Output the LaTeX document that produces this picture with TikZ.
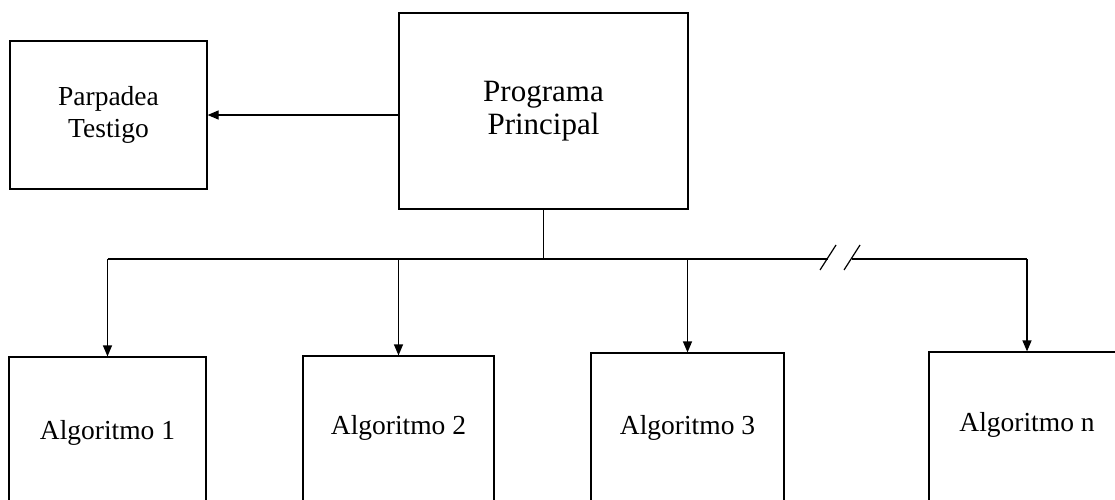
\documentclass[tikz,border=0pt]{standalone}
\usepackage{fontspec}
\setmainfont{Liberation Serif}
\usetikzlibrary{arrows.meta}
\begin{document}
\begin{tikzpicture}[x=1pt,y=-1pt,
  box/.style={draw,line width=1.2pt,inner sep=0pt,align=center},
  conn/.style={line width=1.2pt},
  arr/.style={conn,-{Triangle[length=11pt,width=9pt]}},
  fa/.style={font=\fontsize{27.5}{32}\selectfont},
  fb/.style={font=\fontsize{31}{33}\selectfont}]
\useasboundingbox (0,0) rectangle (1115,499);
\clip (0,0) rectangle (1115,499);
\node[box,fa,minimum width=197pt,minimum height=148pt] (parp) at (108.5,115) {Parpadea\\Testigo};
\node[box,fb,minimum width=289pt,minimum height=196pt] (prog) at (543.5,111) {Programa\\Principal};
\node[box,fa,minimum width=197pt,minimum height=152pt] (alg1) at (107.5,433) {Algoritmo 1};
\node[box,fa,text depth=18.5pt,minimum width=191pt,minimum height=156pt] (alg2) at (398.5,434) {Algoritmo 2};
\node[box,fa,text depth=15.5pt,minimum width=193pt,minimum height=159pt] (alg3) at (687.5,432.5) {Algoritmo 3};
\node[box,fa,text depth=20pt,minimum width=196pt,minimum height=160pt] (algn) at (1027,432) {Algoritmo n};
\draw[arr] (prog.west |- parp.east) -- (parp.east);
\coordinate (bus) at (543.5,259);
\coordinate (b1) at (828,259);
\coordinate (b2) at (852,259);
\draw[conn] (prog.south) -- (bus);
\draw[conn] (alg1.north |- bus) -- (b1);
\draw[conn] (b2) -- (algn.north |- bus);
\draw[conn] ([shift={(-8,11)}]b1) -- ([shift={(8,-14)}]b1);
\draw[conn] ([shift={(-8,11)}]b2) -- ([shift={(8,-14)}]b2);
\draw[arr] (alg1.north |- bus) -- (alg1.north);
\draw[arr] (alg2.north |- bus) -- (alg2.north);
\draw[arr] (alg3.north |- bus) -- (alg3.north);
\draw[arr] (algn.north |- bus) -- (algn.north);
\end{tikzpicture}
\end{document}
